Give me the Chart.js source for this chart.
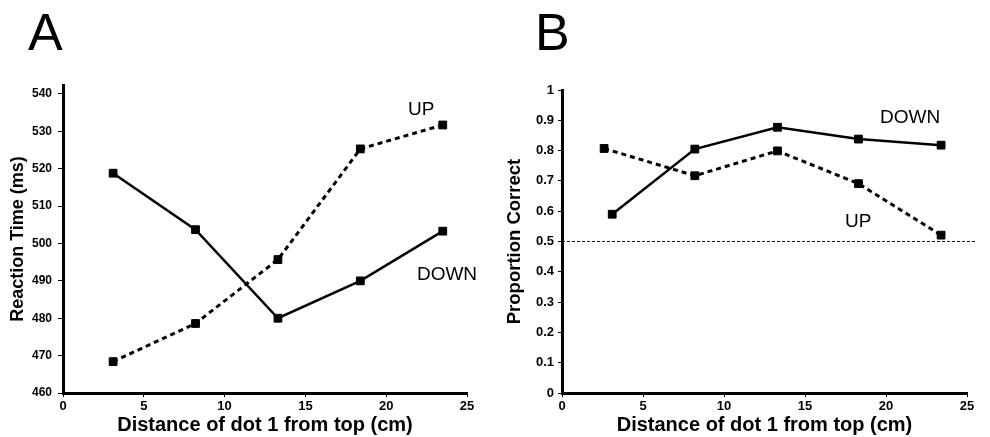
<!DOCTYPE html>
<html>
<head>
<meta charset="utf-8">
<script src="https://cdn.jsdelivr.net/npm/chart.js@4.4.1/dist/chart.umd.min.js"></script>
<style>
  body { margin: 0; background: #fff; }
  #wrap { position: relative; width: 990px; height: 437px; }
  canvas { position: absolute; top: 0; }
</style>
</head>
<body>
<div id="wrap">
  <canvas id="chartA" width="495" height="437" style="left:0"></canvas>
  <canvas id="chartB" width="495" height="437" style="left:495px"></canvas>
</div>
<script>
// distance of dot 1 from top (cm)
var xA = [3.1, 8.2, 13.3, 18.4, 23.5];
var xBdown = [3.1, 8.2, 13.3, 18.3, 23.4];
var xBup = [2.6, 8.2, 13.3, 18.3, 23.4];

// panel A: reaction time (ms)
var rtDown = [518.8, 503.7, 480.0, 490.0, 503.3];
var rtUp = [468.4, 478.6, 495.7, 525.3, 531.7];
var rtTicks = [460, 470, 480, 490, 500, 510, 520, 530, 540];

// panel B: proportion correct
var pcDown = [0.59, 0.805, 0.877, 0.838, 0.818];
var pcUp = [0.807, 0.717, 0.799, 0.691, 0.521];
var pcTicks = [0, 0.1, 0.2, 0.3, 0.4, 0.5, 0.6, 0.7, 0.8, 0.9, 1];
var chance = 0.5;

var xTicks = [0, 5, 10, 15, 20, 25];

var FONT = '"Liberation Sans", Arial, Helvetica, sans-serif';

function pts(xs, ys) {
    var out = [];
    for (var i = 0; i < xs.length; i++) {
        out.push({ x: xs[i], y: ys[i] });
    }
    return out;
}

function fixedTicks(values) {
    return function (s) {
        s.ticks = values.map(function (v) { return { value: v }; });
    };
}

function lineSet(label, data, dashed) {
    return {
        label: label,
        data: data,
        borderColor: '#000',
        backgroundColor: '#000',
        borderWidth: dashed ? 3 : 2.5,
        borderDash: dashed ? [5, 4] : [],
        pointStyle: 'rect',
        pointRadius: 5.5,
        pointBorderWidth: 1,
        pointBackgroundColor: '#000',
        pointBorderColor: '#000',
        tension: 0,
        clip: false
    };
}

// draws the panel letter and the UP / DOWN labels
var textPlugin = {
    id: 'panelText',
    afterDraw: function (chart, args, opts) {
        var ctx = chart.ctx;
        var xs = chart.scales.x, ys = chart.scales.y;
        ctx.save();
        ctx.fillStyle = '#000';
        ctx.textBaseline = 'alphabetic';
        ctx.textAlign = 'left';
        ctx.font = '52px ' + FONT;
        ctx.fillText(opts.letter, opts.letterX, 50);
        ctx.font = '19px ' + FONT;
        opts.notes.forEach(function (n) {
            ctx.fillText(n.text, xs.getPixelForValue(n.x), ys.getPixelForValue(n.y));
        });
        ctx.restore();
    }
};

function axisX(tickSize) {
    return {
        type: 'linear',
        min: 0,
        max: 25,
        afterBuildTicks: fixedTicks(xTicks),
        ticks: { color: '#000', font: { family: FONT, size: tickSize, weight: 'bold' }, padding: 2, maxRotation: 0 },
        grid: { drawOnChartArea: false, tickLength: 4, color: '#000', lineWidth: 1 },
        border: { display: true, color: '#000', width: 3 },
        title: { display: true, text: 'Distance of dot 1 from top (cm)', color: '#000',
                 font: { family: FONT, size: 20, weight: 'bold' }, padding: { top: 0, bottom: 0 } },
        afterFit: function (s) { s.height = 44; }
    };
}

// Panel A
new Chart(document.getElementById('chartA'), {
    type: 'line',
    data: {
        datasets: [
            lineSet('DOWN', pts(xA, rtDown), false),
            lineSet('UP', pts(xA, rtUp), true)
        ]
    },
    options: {
        responsive: false,
        animation: false,
        layout: { padding: { left: 0, right: 28, top: 85, bottom: 0 } },
        plugins: {
            legend: { display: false },
            tooltip: { enabled: false },
            panelText: {
                letter: 'A', letterX: 28,
                notes: [
                    { text: 'UP', x: 21.35, y: 534.4 },
                    { text: 'DOWN', x: 21.9, y: 490.3 }
                ]
            }
        },
        scales: {
            x: axisX(13),
            y: {
                type: 'linear',
                min: 460,
                max: 542.4,
                afterBuildTicks: fixedTicks(rtTicks),
                ticks: { color: '#000', font: { family: FONT, size: 12, weight: 'bold' }, padding: 6 },
                grid: { drawOnChartArea: false, tickLength: 5, color: '#000', lineWidth: 1 },
                border: { display: true, color: '#000', width: 3 },
                title: { display: true, text: 'Reaction Time (ms)', color: '#000',
                         font: { family: FONT, size: 18, weight: 'bold' }, padding: { top: 7, bottom: 0 } },
                afterFit: function (s) { s.width = 63; }
            }
        }
    },
    plugins: [textPlugin]
});

// Panel B
new Chart(document.getElementById('chartB'), {
    type: 'line',
    data: {
        datasets: [
            lineSet('DOWN', pts(xBdown, pcDown), false),
            lineSet('UP', pts(xBup, pcUp), true),
            {
                label: 'chance',
                data: [{ x: 0, y: chance }, { x: 25.5, y: chance }],
                borderColor: '#000',
                borderWidth: 1,
                borderDash: [3, 2],
                pointRadius: 0,
                clip: false
            }
        ]
    },
    options: {
        responsive: false,
        animation: false,
        layout: { padding: { left: 0, right: 23, top: 90, bottom: 0 } },
        plugins: {
            legend: { display: false },
            tooltip: { enabled: false },
            panelText: {
                letter: 'B', letterX: 40,
                notes: [
                    { text: 'DOWN', x: 19.63, y: 0.89 },
                    { text: 'UP', x: 17.47, y: 0.548 }
                ]
            }
        },
        scales: {
            x: axisX(13),
            y: {
                type: 'linear',
                min: 0,
                max: 1,
                afterBuildTicks: fixedTicks(pcTicks),
                ticks: {
                    color: '#000', font: { family: FONT, size: 13, weight: 'bold' }, padding: 4,
                    callback: function (v) { return String(Math.round(v * 10) / 10); }
                },
                grid: { drawOnChartArea: false, tickLength: 4, color: '#000', lineWidth: 1 },
                border: { display: true, color: '#000', width: 3 },
                title: { display: true, text: 'Proportion Correct', color: '#000',
                         font: { family: FONT, size: 18.5, weight: 'bold' }, padding: { top: 9, bottom: 0 } },
                afterFit: function (s) { s.width = 67; }
            }
        }
    },
    plugins: [textPlugin]
});
</script>
</body>
</html>
